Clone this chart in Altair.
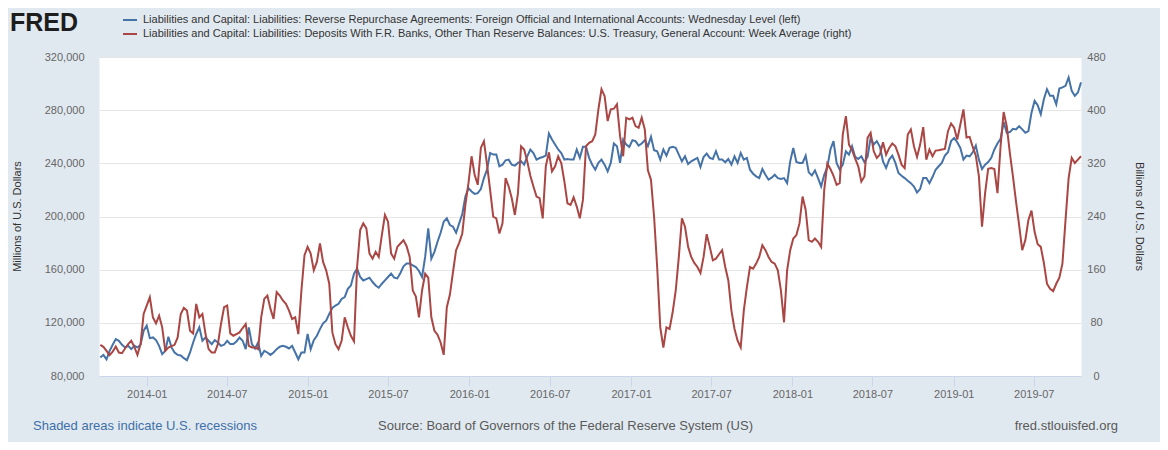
import altair as alt
import pandas as pd

# Weekly observations starting Wednesday 2013-09-18
START = "2013-09-18"

# Reverse repos, foreign official & international accounts (millions USD, left axis)
rrp_millions = [
    93900, 95900, 92600, 98900, 103500, 107800, 106500, 103500, 101500, 102700,
    100200, 102700, 101500, 103500, 114100, 117900, 108500, 109000, 107000, 102700,
    96400, 98900, 109500, 101500, 97700, 95900, 95400, 93400, 91900, 97700,
    105200, 111600, 116600, 106500, 109000, 106500, 104000, 107000, 105200, 102700,
    103500, 106500, 104000, 104000, 106000, 109000, 106500, 100200, 116600, 104000,
    100700, 105200, 95100, 98900, 97700, 95900, 97700, 100200, 102000, 102700,
    102000, 100700, 102700, 97700, 92600, 97700, 97700, 111600, 100200, 107000,
    110300, 115300, 119600, 121600, 126700, 131200, 133000, 134300, 138000, 139300,
    145600, 148100, 157000, 160800, 154500, 151900, 152900, 154000, 150700, 148100,
    146400, 149400, 151900, 154500, 157000, 154000, 153400, 157500, 162500, 164600,
    164600, 163300, 162000, 159000, 154500, 169600, 191100, 168300, 173400, 181000,
    187800, 196100, 198600, 193600, 192300, 187800, 194800, 201900, 215000, 221300,
    218800, 217000, 217600, 220600, 228900, 235200, 247800, 246600, 246600, 237800,
    239000, 242300, 242800, 239000, 238300, 240300, 241500, 239000, 245300, 250400,
    247800, 242800, 244000, 244800, 245800, 262500, 258000, 254200, 250400, 247800,
    242800, 243300, 242800, 242800, 250400, 244100, 252400, 252400, 244100, 239000,
    235200, 240300, 242800, 239000, 234000, 240300, 254900, 252900, 240300, 257900,
    254200, 252400, 257400, 256700, 253400, 254900, 257400, 252900, 260000, 249900,
    249100, 242800, 250400, 245800, 251600, 252400, 251600, 246600, 241500, 245300,
    239500, 241500, 242800, 244100, 237200, 244800, 247300, 244100, 243300, 249100,
    242800, 242800, 240800, 243300, 239000, 245300, 240300, 247800, 242800, 244100,
    235200, 232200, 230200, 228900, 235700, 231400, 227700, 229200, 231400, 228900,
    228200, 228900, 225100, 241500, 251600, 241000, 240300, 240300, 245800, 233200,
    230900, 234700, 228900, 222600, 231400, 237200, 250400, 256700, 240300, 235200,
    239000, 249100, 246600, 252900, 244800, 243300, 245300, 240800, 244800, 259200,
    254200, 256700, 252400, 241500, 236500, 242800, 245800, 240300, 232700, 230700,
    228900, 226900, 225100, 222600, 218100, 220600, 228900, 228900, 225100, 229700,
    235200, 237800, 240300, 245800, 248300, 256700, 259000, 255900, 251600, 242800,
    245800, 245300, 248300, 253400, 242800, 235700, 239000, 241000, 244100, 250400,
    254900, 258400, 271100, 263000, 263500, 266000, 265500, 268000, 265500, 263000,
    264300, 278100, 287000, 283700, 276900, 288200, 295800, 290800, 290800, 284400,
    296300, 297100, 298300, 304600, 294500, 290800, 293300, 300900,
]

# Treasury General Account, week average (billions USD, right axis)
tga_billions = [
    46.9, 43.9, 37.9, 31.3, 36.8, 44.4, 35.3, 34.3, 41.4, 47.9,
    53.0, 43.9, 31.8, 47.9, 93.4, 106.0, 118.6, 88.3, 79.2, 90.8,
    73.2, 37.9, 42.9, 44.9, 46.9, 58.0, 93.4, 102.5, 98.4, 68.1,
    64.1, 108.5, 88.3, 93.4, 63.1, 40.4, 35.3, 35.3, 47.9, 78.2,
    103.5, 106.0, 64.1, 60.6, 63.1, 65.6, 72.2, 78.2, 45.4, 42.9,
    42.9, 40.4, 88.3, 116.0, 121.0, 101.0, 85.8, 126.2, 121.0, 113.6,
    108.5, 98.4, 85.8, 88.3, 63.1, 128.7, 181.7, 194.3, 184.2, 159.0,
    171.6, 199.4, 171.6, 159.0, 138.8, 65.6, 47.9, 40.4, 53.0, 88.3,
    73.2, 60.6, 52.0, 164.0, 219.5, 229.6, 222.1, 184.2, 176.6, 186.7,
    179.2, 212.0, 242.3, 232.2, 184.2, 176.6, 194.3, 199.4, 204.4, 195.3,
    179.2, 128.7, 119.6, 88.3, 128.7, 153.9, 147.9, 88.3, 68.1, 62.1,
    50.5, 31.8, 103.5, 122.6, 156.5, 189.3, 200.4, 214.5, 257.4, 290.2,
    330.6, 302.8, 287.7, 343.2, 353.3, 318.0, 280.1, 239.7, 237.2, 214.5,
    229.6, 297.8, 285.2, 267.5, 242.3, 275.1, 345.7, 340.7, 323.0, 301.3,
    285.2, 270.0, 267.5, 237.2, 315.4, 336.6, 307.9, 315.4, 330.6, 320.5,
    292.7, 259.9, 257.4, 268.9, 254.9, 237.2, 265.0, 345.7, 350.8, 353.3,
    363.4, 401.2, 431.5, 421.4, 383.6, 401.2, 402.2, 408.8, 360.9, 330.6,
    388.6, 386.1, 388.6, 376.0, 373.5, 388.6, 371.0, 309.4, 295.2, 239.7,
    164.0, 73.2, 42.9, 73.2, 70.7, 95.9, 128.7, 179.2, 237.2, 224.6,
    194.3, 179.2, 170.1, 164.0, 154.9, 179.2, 213.5, 194.3, 174.1, 176.6,
    183.2, 189.3, 164.0, 143.8, 98.4, 70.7, 53.0, 42.9, 98.4, 133.7,
    164.0, 161.5, 169.1, 179.2, 196.8, 189.3, 179.2, 171.6, 169.1, 159.0,
    128.7, 80.8, 159.0, 189.3, 206.9, 212.0, 229.6, 270.0, 249.8, 204.4,
    201.9, 206.9, 201.9, 194.3, 280.1, 319.5, 311.4, 301.3, 287.7, 290.2,
    363.4, 391.1, 348.2, 339.7, 327.0, 315.4, 292.7, 300.3, 358.3, 365.9,
    338.1, 328.1, 333.1, 351.8, 333.1, 343.2, 349.8, 345.7, 333.1, 318.0,
    312.9, 363.4, 371.0, 345.7, 329.6, 348.2, 374.5, 325.5, 340.7, 330.6,
    339.2, 339.7, 340.7, 341.7, 368.4, 380.0, 373.5, 355.8, 378.5, 401.2,
    358.8, 359.9, 344.7, 331.6, 300.3, 224.6, 275.1, 311.9, 312.9, 311.4,
    275.1, 345.7, 397.2, 376.0, 335.6, 300.3, 262.4, 227.1, 189.3, 204.4,
    234.7, 248.8, 217.0, 198.3, 194.3, 170.1, 138.8, 131.2, 127.7, 138.8,
    147.9, 169.1, 234.7, 297.8, 328.1, 320.5, 325.5, 330.6,
]

left_ticks = [80000, 120000, 160000, 200000, 240000, 280000, 320000]
right_ticks = [0, 80, 160, 240, 320, 400, 480]
x_tick_years = [2014, 2015, 2016, 2017, 2018, 2019]
x_tick_months = [1, 7]

legend_labels = [
    "Liabilities and Capital: Liabilities: Reverse Repurchase Agreements: Foreign Official and International Accounts: Wednesday Level (left)",
    "Liabilities and Capital: Liabilities: Deposits With F.R. Banks, Other Than Reserve Balances: U.S. Treasury, General Account: Week Average (right)",
]
left_title = "Millions of U.S. Dollars"
right_title = "Billions of U.S. Dollars"
footer_left = "Shaded areas indicate U.S. recessions"
footer_mid = "Source: Board of Governors of the Federal Reserve System (US)"
footer_right = "fred.stlouisfed.org"

BLUE = "#4572a7"
RED = "#aa4643"
FONT = "Liberation Sans"
W, H = 982, 319

dates = pd.date_range(START, periods=len(rrp_millions), freq="7D").strftime("%Y-%m-%d")
df = pd.DataFrame({"date": dates, "rrp": rrp_millions, "tga": tga_billions})

x_enc = alt.X(
    "date:T",
    scale=alt.Scale(
        type="utc",
        domain=[alt.DateTime(year=2013, month=9, date=15, utc=True),
                alt.DateTime(year=2019, month=10, date=16, utc=True)],
        nice=False,
    ),
    axis=alt.Axis(
        values=[alt.DateTime(year=y, month=m, date=1, utc=True)
                for y in x_tick_years for m in x_tick_months],
        labelExpr="utcFormat(datum.value, '%Y-%m')", title=None, grid=False,
        domainColor="#ccd6eb", tickColor="#ccd6eb", tickSize=10,
        labelFontSize=11, labelColor="#666666", labelPadding=2, labelFont=FONT,
    ),
)

blue = alt.Chart(df).mark_line(color=BLUE, strokeWidth=2).encode(
    x=x_enc,
    y=alt.Y(
        "rrp:Q",
        scale=alt.Scale(domain=[80000, 320000], nice=False, zero=False),
        axis=alt.Axis(values=left_ticks, format=",.0f", title=None, domain=False, ticks=False,
                      labelPadding=15, labelFontSize=11, labelColor="#666666",
                      gridColor="#e6e6e6", labelFont=FONT),
    ),
)

red = alt.Chart(df).mark_line(color=RED, strokeWidth=2).encode(
    x=x_enc,
    y=alt.Y(
        "tga:Q",
        scale=alt.Scale(domain=[0, 480], nice=False),
        axis=alt.Axis(orient="right", values=right_ticks, format=".0f", title=None, domain=False,
                      ticks=False, grid=False, labelPadding=15, labelAlign="center",
                      labelFontSize=11, labelColor="#666666", labelFont=FONT),
    ),
)

one = pd.DataFrame({"k": [0]})


def label(text, x, y, size=11, color="#333333", align="left", angle=0, weight="normal", baseline="middle"):
    return alt.Chart(one).mark_text(
        text=text, fontSize=size, color=color, align=align, angle=angle,
        fontWeight=weight, baseline=baseline, font=FONT,
    ).encode(x=alt.value(x), y=alt.value(y))


def dash(color, y):
    return alt.Chart(one).mark_rule(color=color, strokeWidth=2).encode(
        x=alt.value(24), x2=alt.value(38), y=alt.value(y))


layers = [
    blue, red,
    label("FRED", -89, -26, size=25, color="#1d1d1d", weight="bold", baseline="alphabetic"),
    dash(BLUE, -37), dash(RED, -23),
    label(legend_labels[0], 44, -37),
    label(legend_labels[1], 44, -23),
    label(left_title, -81, H / 2, angle=270, align="center"),
    label(right_title, 1040, H / 2, angle=90, align="center"),
    label(footer_left, -66, 369, size=13, color="#3e6fa8"),
    label(footer_mid, 279, 369, size=13, color="#595959"),
    label(footer_right, 1019, 369, size=13, color="#595959", align="right"),
]

chart = alt.layer(*layers).resolve_scale(y="independent").properties(
    width=W, height=H,
    padding={"left": 91, "top": 49, "right": 79, "bottom": 66},
    autosize=alt.AutoSizeParams(type="none"),
    background="#e1e9f0",
).configure_view(fill="white", stroke="transparent")

chart.save("out.html", embed_options={"renderer": "svg", "actions": False})
